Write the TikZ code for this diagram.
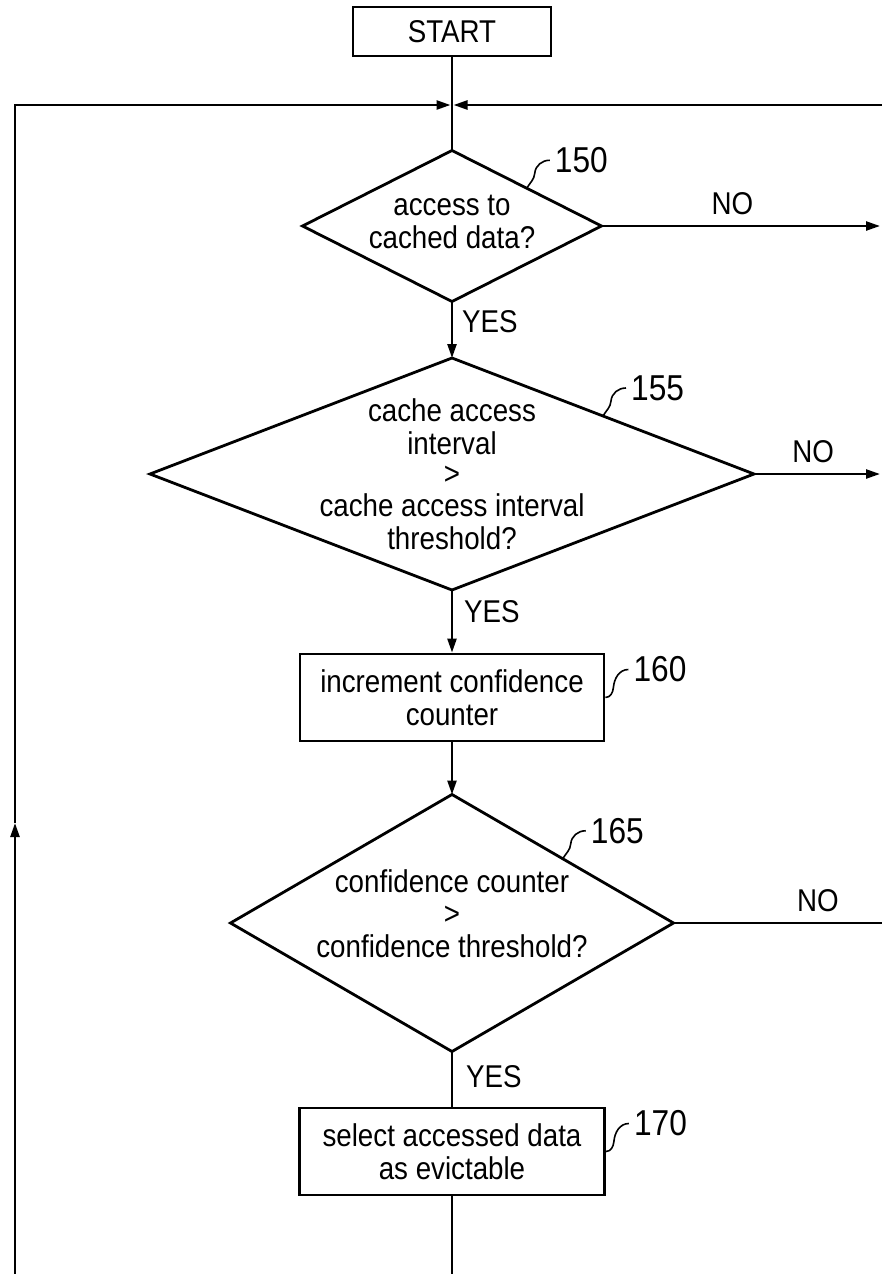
\documentclass[tikz,border=0pt]{standalone}
\usepackage{fontspec}
\setmainfont{Liberation Sans}[FakeStretch=0.88]
\usetikzlibrary{shapes.geometric,arrows.meta,calc}
\begin{document}
\begin{tikzpicture}[x=1pt,y=1pt,
  every node/.style={font=\fontsize{31.5}{33}\selectfont, inner sep=0pt},
  box/.style={draw, line width=2.8pt, align=center},
  dia/.style={draw, diamond, line width=2.8pt, inner sep=0pt, outer sep=0pt},
  txt/.style={align=center},
  ln/.style={line width=2.4pt},
  arr/.style={line width=2.4pt, -{Triangle[length=14pt,width=9pt]}},
  sq/.style={line width=1.6pt},
  num/.style={font=\fontsize{36}{36}\selectfont, anchor=west, inner sep=3pt, xshift=2pt},
  nolab/.style={anchor=south, yshift=10pt},
  yeslab/.style={anchor=west}
]
\useasboundingbox (0,0) rectangle (882,-1274);

% nodes
\node[box, minimum width=198pt, minimum height=49pt] (start) at (452,-31.5) {START};
\node[dia, minimum width=299pt, minimum height=151pt] (d150) at (452,-226) {};
\node[txt] at (452,-222) {access to\\cached data?};
\node[dia, minimum width=604pt, minimum height=232pt] (d155) at (452,-474) {};
\node[txt] at (452,-474) {cache access\\interval\\[-3pt]>\\[-1pt]cache access interval\\threshold?};
\node[box, minimum width=304pt, minimum height=87pt] (b160) at (452,-697.5) {increment confidence\\counter};
\node[dia, minimum width=443pt, minimum height=257pt] (d165) at (452,-923) {};
\node[txt] at (452,-914) {confidence counter\\[-1pt]>\\confidence threshold?};
\node[box, minimum width=305pt, minimum height=87pt] (b170) at (452,-1151.5) {select accessed data\\as evictable};

% free ends
\coordinate (jn) at (452,-105);
\coordinate (rt) at (886,-105);
\coordinate (r150) at (880,-226);
\coordinate (r155) at (880,-474);
\coordinate (r165) at (886,-923);
\coordinate (bb) at (452,-1300);
\coordinate (lb) at (15,-1300);
\coordinate (lm) at (15,-823);

% connectors
\draw[ln] (start.south) -- (d150.north);
\draw[arr, shorten >=1.5pt] (rt) -- (jn);
\draw[arr] (d150.south) -- (d155.north);
\draw[arr] (d155.south) -- (b160.north);
\draw[arr] (b160.south) -- (d165.north);
\draw[ln] (d165.south) -- (b170.north);
\draw[arr] (b170.south) -- (bb) -- (lb) -- (lm);
\draw[arr, shorten >=1.5pt] (lm) |- (jn);

\draw[arr] (d150.east) -- (r150) node[nolab, pos=0.47] {NO};
\draw[arr] (d155.east) -- (r155) node[nolab, pos=0.47] {NO};
\draw[ln] (d165.east) -- (r165) node[nolab, pos=0.68] {NO};

\node[yeslab] at ($(d150.south)+(10,-20)$) {YES};
\node[yeslab] at ($(d155.south)+(12,-22)$) {YES};
\node[yeslab] at ($(d165.south)+(14,-25)$) {YES};

% reference numerals
\coordinate (s150) at ($(d150.north)!0.5!(d150.east)$);
\coordinate (s155) at ($(d155.north)!0.5!(d155.east)$);
\coordinate (s165) at ($(d165.north)!0.5!(d165.east)$);
\draw[sq] (s150) to[out=60,in=-95] ++(8,15) to[out=85,in=180] ++(15,13) coordinate (e150);
\draw[sq] (s155) to[out=60,in=-95] ++(8,15) to[out=85,in=180] ++(15,13) coordinate (e155);
\draw[sq] (s165) to[out=60,in=-95] ++(8,15) to[out=85,in=180] ++(15,13) coordinate (e165);
\draw[sq] (b160.east) to[out=0,in=-95] ++(8,10) to[out=85,in=180] ++(15,18) coordinate (e160);
\draw[sq] (b170.east) to[out=0,in=-95] ++(8,10) to[out=85,in=180] ++(15,18) coordinate (e170);
\node[num] at (e150) {150};
\node[num] at (e155) {155};
\node[num] at (e165) {165};
\node[num] at (e160) {160};
\node[num] at (e170) {170};
\end{tikzpicture}
\end{document}
